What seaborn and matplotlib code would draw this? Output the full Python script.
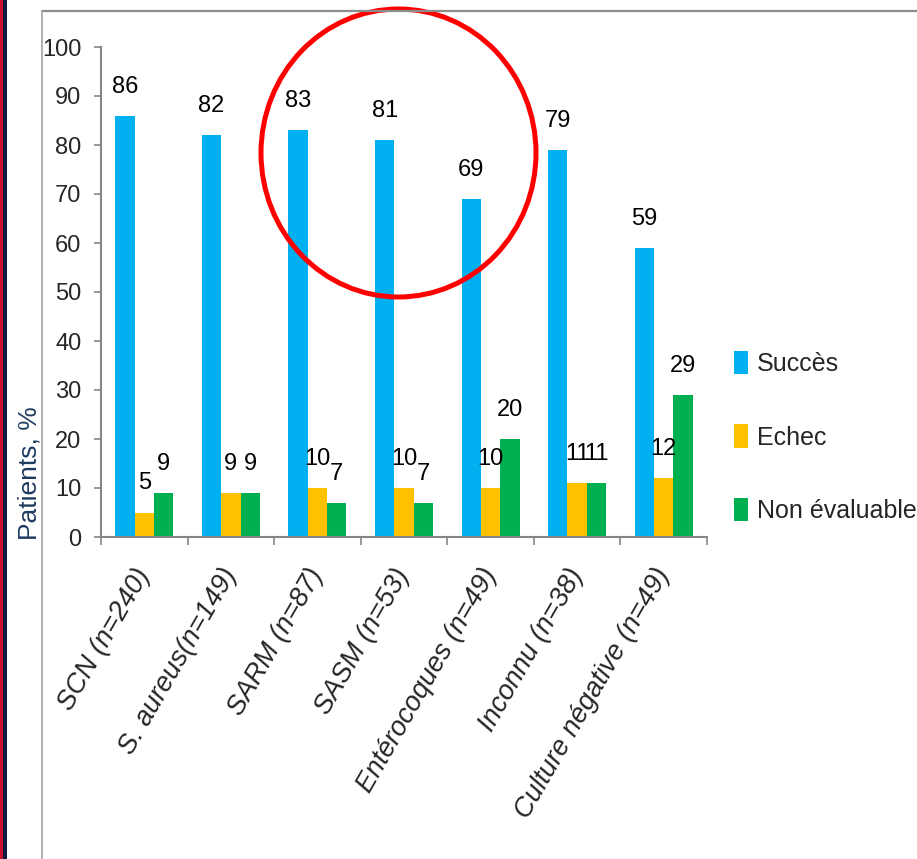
import numpy as np
import pandas as pd
import matplotlib
matplotlib.use("Agg")
import matplotlib.pyplot as plt
from matplotlib.patches import Ellipse, Rectangle
from matplotlib.lines import Line2D
import seaborn as sns

categories = ["SCN (n=240)", "S. aureus(n=149)", "SARM (n=87)", "SASM (n=53)",
              "Entérocoques (n=49)", "Inconnu (n=38)", "Culture négative (n=49)"]
series_names = ["Succès", "Echec", "Non évaluable"]
succes = [86, 82, 83, 81, 69, 79, 59]
echec = [5, 9, 10, 10, 10, 11, 12]
non_evaluable = [9, 9, 7, 7, 20, 11, 29]
y_ticks = [0, 10, 20, 30, 40, 50, 60, 70, 80, 90, 100]
colors = ["#00B0F0", "#FFC000", "#00B050"]

sns.set_theme(style="white")
plt.rcParams["font.family"] = ["Liberation Sans Narrow", "Liberation Sans", "DejaVu Sans"]

rows = []
for name, vals in zip(series_names, [succes, echec, non_evaluable]):
    for c, v in zip(categories, vals):
        rows.append({"cat": c, "serie": name, "val": v})
df = pd.DataFrame(rows)

W, H = 917, 859
fig = plt.figure(figsize=(W / 100, H / 100), dpi=100)
fig.patch.set_facecolor("white")
ax = fig.add_axes([101 / W, 1 - 537 / H, (707 - 101) / W, (537 - 47) / H])

sns.barplot(data=df, x="cat", y="val", hue="serie", order=categories,
            hue_order=series_names, palette=colors, saturation=1,
            width=0.67, linewidth=0, ax=ax, errorbar=None)

handles, labels = ax.get_legend_handles_labels()
if ax.get_legend() is not None:
    ax.get_legend().remove()

for cont in ax.containers:
    ax.bar_label(cont, labels=[f"{int(round(b.get_height()))}" for b in cont],
                 padding=13, fontsize=17, color="black")

grey = "#868686"
ax.set_ylim(0, 100)
ax.set_xlim(-0.5, len(categories) - 0.5)
ax.set_yticks(y_ticks)
ax.set_yticklabels([str(t) for t in y_ticks], fontsize=17)
ax.set_xticks(range(len(categories)))
ax.set_xticklabels(categories, fontsize=19.5, style="italic", rotation=60,
                   ha="right", va="center", rotation_mode="anchor")
ax.set_xticks(np.arange(-0.5, len(categories)), minor=True)
ax.tick_params(axis="x", which="major", length=0, pad=24)
ax.tick_params(axis="x", which="minor", length=6, width=1.2, color=grey, direction="out", bottom=True)
ax.tick_params(axis="y", length=5, width=1.2, color=grey, direction="out", pad=9, left=True)
for s in ["top", "right"]:
    ax.spines[s].set_visible(False)
for s in ["left", "bottom"]:
    ax.spines[s].set_color(grey)
    ax.spines[s].set_linewidth(1.5)
ax.set_xlabel("")
ax.set_ylabel("")

fig.text(29 / W, 1 - 473 / H, "Patients, %", rotation=90, ha="center", va="center",
         fontsize=19, color="#1F3A60", family=["Liberation Sans", "DejaVu Sans"])

leg = fig.legend(handles, labels, loc="center left", bbox_to_anchor=(734 / W, 1 - 437 / H),
                 frameon=False, fontsize=18, handlelength=0.56, handleheight=1.04,
                 handletextpad=0.36, labelspacing=1.95, borderpad=0, borderaxespad=0)

# decorative frame and stripes
fig.add_artist(Line2D([42 / W, 1], [1 - 11 / H, 1 - 11 / H], transform=fig.transFigure,
                      color="#8C8C8C", lw=1.6))
fig.add_artist(Line2D([42 / W, 42 / W], [0, 1 - 11 / H], transform=fig.transFigure,
                      color="#B0B0B0", lw=1.4))
fig.add_artist(Rectangle((0, 0), 3 / W, 1, transform=fig.transFigure, color="#C8102E", lw=0))
fig.add_artist(Rectangle((3 / W, 0), 4 / W, 1, transform=fig.transFigure, color="#0B1B3D", lw=0))

# red highlight circle
fig.add_artist(Ellipse((398.5 / W, 1 - 153 / H), 275 / W, 288 / H, transform=fig.transFigure,
                       fill=False, edgecolor="#FF0000", lw=3.6))

fig.savefig("out.png", dpi=100)
